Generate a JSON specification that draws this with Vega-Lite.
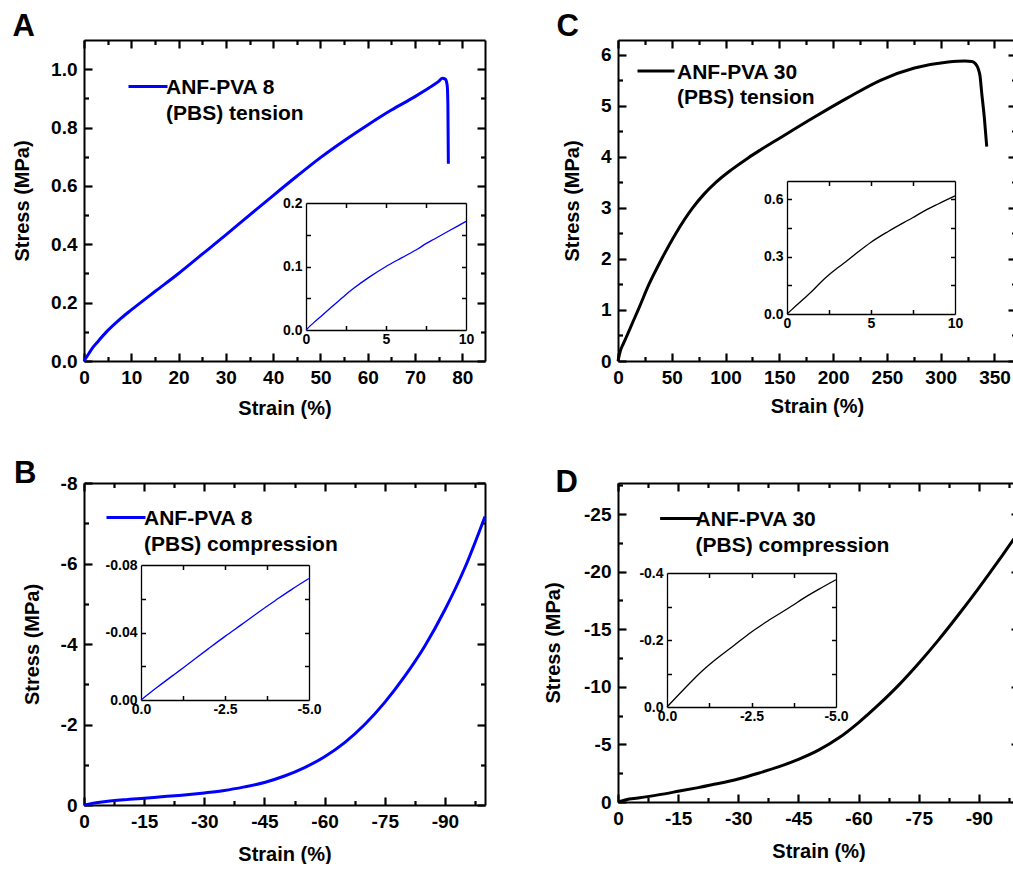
{
  "$schema": "https://vega.github.io/schema/vega-lite/v6.json",
  "background": "white",
  "padding": {"left": 12, "top": 10, "right": 0, "bottom": 0},
  "columns": 2,
  "spacing": {"row": 40, "column": 52},
  "align": "each",
  "resolve": {"scale": {"color": "independent"}, "legend": {"color": "independent"}},
  "datasets": {
    "A_main": [
      {"strain": 0, "stress": 0, "series": "ANF-PVA 8 (PBS) tension"},
      {"strain": 1, "stress": 0.025, "series": "ANF-PVA 8 (PBS) tension"},
      {"strain": 2, "stress": 0.049, "series": "ANF-PVA 8 (PBS) tension"},
      {"strain": 3, "stress": 0.068, "series": "ANF-PVA 8 (PBS) tension"},
      {"strain": 5, "stress": 0.104, "series": "ANF-PVA 8 (PBS) tension"},
      {"strain": 7.5, "stress": 0.142, "series": "ANF-PVA 8 (PBS) tension"},
      {"strain": 10, "stress": 0.175, "series": "ANF-PVA 8 (PBS) tension"},
      {"strain": 15, "stress": 0.238, "series": "ANF-PVA 8 (PBS) tension"},
      {"strain": 20, "stress": 0.3, "series": "ANF-PVA 8 (PBS) tension"},
      {"strain": 25, "stress": 0.366, "series": "ANF-PVA 8 (PBS) tension"},
      {"strain": 30, "stress": 0.432, "series": "ANF-PVA 8 (PBS) tension"},
      {"strain": 35, "stress": 0.5, "series": "ANF-PVA 8 (PBS) tension"},
      {"strain": 40, "stress": 0.567, "series": "ANF-PVA 8 (PBS) tension"},
      {"strain": 45, "stress": 0.633, "series": "ANF-PVA 8 (PBS) tension"},
      {"strain": 50, "stress": 0.697, "series": "ANF-PVA 8 (PBS) tension"},
      {"strain": 55, "stress": 0.755, "series": "ANF-PVA 8 (PBS) tension"},
      {"strain": 60, "stress": 0.809, "series": "ANF-PVA 8 (PBS) tension"},
      {"strain": 65, "stress": 0.86, "series": "ANF-PVA 8 (PBS) tension"},
      {"strain": 70, "stress": 0.906, "series": "ANF-PVA 8 (PBS) tension"},
      {"strain": 73, "stress": 0.936, "series": "ANF-PVA 8 (PBS) tension"},
      {"strain": 75, "stress": 0.958, "series": "ANF-PVA 8 (PBS) tension"},
      {"strain": 75.8, "stress": 0.969, "series": "ANF-PVA 8 (PBS) tension"},
      {"strain": 76.4, "stress": 0.966, "series": "ANF-PVA 8 (PBS) tension"},
      {"strain": 76.8, "stress": 0.945, "series": "ANF-PVA 8 (PBS) tension"},
      {"strain": 76.95, "stress": 0.88, "series": "ANF-PVA 8 (PBS) tension"},
      {"strain": 77.0, "stress": 0.78, "series": "ANF-PVA 8 (PBS) tension"},
      {"strain": 77.05, "stress": 0.676, "series": "ANF-PVA 8 (PBS) tension"}
    ],
    "A_inset": [
      {"strain": 0, "stress": 0}, {"strain": 0.5, "stress": 0.012}, {"strain": 1, "stress": 0.023},
      {"strain": 2, "stress": 0.045}, {"strain": 2.5, "stress": 0.056}, {"strain": 3, "stress": 0.066},
      {"strain": 4, "stress": 0.084}, {"strain": 5, "stress": 0.1}, {"strain": 6, "stress": 0.114},
      {"strain": 7, "stress": 0.128}, {"strain": 7.5, "stress": 0.136}, {"strain": 8, "stress": 0.143},
      {"strain": 9, "stress": 0.157}, {"strain": 10, "stress": 0.171}
    ],
    "C_main": [
      {"strain": 0, "stress": 0, "series": "ANF-PVA 30 (PBS) tension"},
      {"strain": 2.2, "stress": 0.2, "series": "ANF-PVA 30 (PBS) tension"},
      {"strain": 5, "stress": 0.34, "series": "ANF-PVA 30 (PBS) tension"},
      {"strain": 8.4, "stress": 0.5, "series": "ANF-PVA 30 (PBS) tension"},
      {"strain": 13.5, "stress": 0.75, "series": "ANF-PVA 30 (PBS) tension"},
      {"strain": 18.75, "stress": 1.0, "series": "ANF-PVA 30 (PBS) tension"},
      {"strain": 28.75, "stress": 1.5, "series": "ANF-PVA 30 (PBS) tension"},
      {"strain": 40.6, "stress": 2.0, "series": "ANF-PVA 30 (PBS) tension"},
      {"strain": 53.75, "stress": 2.5, "series": "ANF-PVA 30 (PBS) tension"},
      {"strain": 69.4, "stress": 3.0, "series": "ANF-PVA 30 (PBS) tension"},
      {"strain": 80, "stress": 3.27, "series": "ANF-PVA 30 (PBS) tension"},
      {"strain": 91, "stress": 3.5, "series": "ANF-PVA 30 (PBS) tension"},
      {"strain": 105, "stress": 3.74, "series": "ANF-PVA 30 (PBS) tension"},
      {"strain": 121, "stress": 3.98, "series": "ANF-PVA 30 (PBS) tension"},
      {"strain": 132, "stress": 4.13, "series": "ANF-PVA 30 (PBS) tension"},
      {"strain": 150.6, "stress": 4.37, "series": "ANF-PVA 30 (PBS) tension"},
      {"strain": 181.9, "stress": 4.77, "series": "ANF-PVA 30 (PBS) tension"},
      {"strain": 213, "stress": 5.15, "series": "ANF-PVA 30 (PBS) tension"},
      {"strain": 244, "stress": 5.5, "series": "ANF-PVA 30 (PBS) tension"},
      {"strain": 275.6, "stress": 5.74, "series": "ANF-PVA 30 (PBS) tension"},
      {"strain": 306.9, "stress": 5.86, "series": "ANF-PVA 30 (PBS) tension"},
      {"strain": 322.5, "stress": 5.88, "series": "ANF-PVA 30 (PBS) tension"},
      {"strain": 329, "stress": 5.87, "series": "ANF-PVA 30 (PBS) tension"},
      {"strain": 332.5, "stress": 5.82, "series": "ANF-PVA 30 (PBS) tension"},
      {"strain": 335, "stress": 5.72, "series": "ANF-PVA 30 (PBS) tension"},
      {"strain": 336.6, "stress": 5.58, "series": "ANF-PVA 30 (PBS) tension"},
      {"strain": 338, "stress": 5.28, "series": "ANF-PVA 30 (PBS) tension"},
      {"strain": 340.6, "stress": 4.76, "series": "ANF-PVA 30 (PBS) tension"},
      {"strain": 342.8, "stress": 4.2, "series": "ANF-PVA 30 (PBS) tension"}
    ],
    "C_inset": [
      {"strain": 0, "stress": 0}, {"strain": 0.5, "stress": 0.04}, {"strain": 1, "stress": 0.08},
      {"strain": 1.5, "stress": 0.12}, {"strain": 2, "stress": 0.165}, {"strain": 2.5, "stress": 0.205},
      {"strain": 3, "stress": 0.24}, {"strain": 3.5, "stress": 0.273}, {"strain": 4, "stress": 0.308},
      {"strain": 5, "stress": 0.375}, {"strain": 6, "stress": 0.43}, {"strain": 7, "stress": 0.48},
      {"strain": 7.5, "stress": 0.504}, {"strain": 8, "stress": 0.53}, {"strain": 9, "stress": 0.575},
      {"strain": 10, "stress": 0.617}
    ],
    "B_main": [
      {"strain": 0, "stress": 0, "series": "ANF-PVA 8 (PBS) compression"},
      {"strain": -2, "stress": -0.04, "series": "ANF-PVA 8 (PBS) compression"},
      {"strain": -5, "stress": -0.08, "series": "ANF-PVA 8 (PBS) compression"},
      {"strain": -10, "stress": -0.13, "series": "ANF-PVA 8 (PBS) compression"},
      {"strain": -15, "stress": -0.17, "series": "ANF-PVA 8 (PBS) compression"},
      {"strain": -20, "stress": -0.21, "series": "ANF-PVA 8 (PBS) compression"},
      {"strain": -25, "stress": -0.25, "series": "ANF-PVA 8 (PBS) compression"},
      {"strain": -30, "stress": -0.3, "series": "ANF-PVA 8 (PBS) compression"},
      {"strain": -35, "stress": -0.36, "series": "ANF-PVA 8 (PBS) compression"},
      {"strain": -40, "stress": -0.45, "series": "ANF-PVA 8 (PBS) compression"},
      {"strain": -45, "stress": -0.56, "series": "ANF-PVA 8 (PBS) compression"},
      {"strain": -50, "stress": -0.72, "series": "ANF-PVA 8 (PBS) compression"},
      {"strain": -55, "stress": -0.93, "series": "ANF-PVA 8 (PBS) compression"},
      {"strain": -60, "stress": -1.2, "series": "ANF-PVA 8 (PBS) compression"},
      {"strain": -65, "stress": -1.55, "series": "ANF-PVA 8 (PBS) compression"},
      {"strain": -70, "stress": -2.0, "series": "ANF-PVA 8 (PBS) compression"},
      {"strain": -75, "stress": -2.55, "series": "ANF-PVA 8 (PBS) compression"},
      {"strain": -80, "stress": -3.2, "series": "ANF-PVA 8 (PBS) compression"},
      {"strain": -85, "stress": -3.95, "series": "ANF-PVA 8 (PBS) compression"},
      {"strain": -90, "stress": -4.85, "series": "ANF-PVA 8 (PBS) compression"},
      {"strain": -95, "stress": -5.9, "series": "ANF-PVA 8 (PBS) compression"},
      {"strain": -100, "stress": -7.17, "series": "ANF-PVA 8 (PBS) compression"}
    ],
    "B_inset": [
      {"strain": 0, "stress": 0}, {"strain": -0.5, "stress": -0.0078}, {"strain": -1, "stress": -0.0153},
      {"strain": -1.25, "stress": -0.019}, {"strain": -2, "stress": -0.0303}, {"strain": -2.5, "stress": -0.0377},
      {"strain": -3, "stress": -0.0448}, {"strain": -3.75, "stress": -0.0556}, {"strain": -4, "stress": -0.059},
      {"strain": -4.5, "stress": -0.0657}, {"strain": -5, "stress": -0.072}
    ],
    "D_main": [
      {"strain": 0, "stress": 0, "series": "ANF-PVA 30 (PBS) compression"},
      {"strain": -2, "stress": -0.2, "series": "ANF-PVA 30 (PBS) compression"},
      {"strain": -5, "stress": -0.35, "series": "ANF-PVA 30 (PBS) compression"},
      {"strain": -10, "stress": -0.62, "series": "ANF-PVA 30 (PBS) compression"},
      {"strain": -15, "stress": -0.93, "series": "ANF-PVA 30 (PBS) compression"},
      {"strain": -20, "stress": -1.25, "series": "ANF-PVA 30 (PBS) compression"},
      {"strain": -25, "stress": -1.6, "series": "ANF-PVA 30 (PBS) compression"},
      {"strain": -30, "stress": -2.0, "series": "ANF-PVA 30 (PBS) compression"},
      {"strain": -35, "stress": -2.5, "series": "ANF-PVA 30 (PBS) compression"},
      {"strain": -40, "stress": -3.05, "series": "ANF-PVA 30 (PBS) compression"},
      {"strain": -45, "stress": -3.7, "series": "ANF-PVA 30 (PBS) compression"},
      {"strain": -50, "stress": -4.5, "series": "ANF-PVA 30 (PBS) compression"},
      {"strain": -55, "stress": -5.55, "series": "ANF-PVA 30 (PBS) compression"},
      {"strain": -60, "stress": -6.9, "series": "ANF-PVA 30 (PBS) compression"},
      {"strain": -65, "stress": -8.45, "series": "ANF-PVA 30 (PBS) compression"},
      {"strain": -70, "stress": -10.15, "series": "ANF-PVA 30 (PBS) compression"},
      {"strain": -75, "stress": -12.05, "series": "ANF-PVA 30 (PBS) compression"},
      {"strain": -80, "stress": -14.1, "series": "ANF-PVA 30 (PBS) compression"},
      {"strain": -85, "stress": -16.3, "series": "ANF-PVA 30 (PBS) compression"},
      {"strain": -90, "stress": -18.6, "series": "ANF-PVA 30 (PBS) compression"},
      {"strain": -95, "stress": -21.0, "series": "ANF-PVA 30 (PBS) compression"},
      {"strain": -100, "stress": -23.5, "series": "ANF-PVA 30 (PBS) compression"}
    ],
    "D_inset": [
      {"strain": 0, "stress": 0}, {"strain": -0.5, "stress": -0.053}, {"strain": -1, "stress": -0.104},
      {"strain": -1.25, "stress": -0.126}, {"strain": -2, "stress": -0.185}, {"strain": -2.5, "stress": -0.224},
      {"strain": -3, "stress": -0.258}, {"strain": -3.75, "stress": -0.305}, {"strain": -4, "stress": -0.322},
      {"strain": -4.5, "stress": -0.352}, {"strain": -5, "stress": -0.38}
    ]
  },
  "concat": [
    {
      "width": 401, "height": 321,
      "title": {"text": "A", "anchor": "start", "frame": "bounds", "offset": -4},
      "resolve": {"scale": {"x": "independent", "y": "independent"}},
      "layer": [
        {
          "data": {"name": "A_main"},
          "mark": {"type": "line", "strokeWidth": 3, "interpolate": "monotone"},
          "encoding": {
            "x": {"field": "strain", "type": "quantitative", "scale": {"domain": [0, 84.8], "nice": false, "zero": false},
              "axis": {"orient": "bottom", "title": "Strain (%)", "values": [0,10,20,30,40,50,60,70,80], "format": "d", "ticks": false, "labelPadding": 7, "titlePadding": 11}},
            "y": {"field": "stress", "type": "quantitative", "scale": {"domain": [0, 1.1], "nice": false, "zero": false},
              "axis": {"orient": "left", "title": "Stress (MPa)", "values": [0,0.2,0.4,0.6,0.8,1.0], "format": ".1f", "ticks": false, "labelPadding": 7, "titlePadding": 18}},
            "color": {"field": "series", "type": "nominal", "scale": {"range": ["#0000ff"]},
              "legend": {"orient": "none", "legendX": 43, "legendY": 27, "title": null, "padding": 0,
                "symbolType": "M-1,-0.08L1,-0.08", "symbolSize": 1521, "symbolStrokeWidth": 3, "labelOffset": -3, "labelLimit": 400,
                "labelExpr": "[slice(datum.label, 0, indexof(datum.label, ' (')), slice(datum.label, indexof(datum.label, ' (') + 1)]"}}
          }
        },
        {
          "data": {"name": "A_main"}, "mark": {"type": "line", "opacity": 0},
          "encoding": {
            "x": {"field": "strain", "type": "quantitative", "scale": {"domain": [0, 84.8], "nice": false, "zero": false},
              "axis": {"orient": "top", "offset": -321, "title": null, "labels": false, "domain": false, "ticks": true, "tickColor": "black", "tickWidth": 2.2, "tickOpacity": 1, "values": [0,10,20,30,40,50,60,70,80], "tickSize": 8}},
            "y": {"field": "stress", "type": "quantitative", "scale": {"domain": [0, 1.1], "nice": false, "zero": false},
              "axis": {"orient": "right", "offset": -401, "title": null, "labels": false, "domain": false, "ticks": true, "tickColor": "black", "tickWidth": 2.2, "tickOpacity": 1, "values": [0,0.2,0.4,0.6,0.8,1.0], "tickSize": 8}}
          }
        },
        {
          "data": {"name": "A_main"}, "mark": {"type": "line", "opacity": 0},
          "encoding": {
            "x": {"field": "strain", "type": "quantitative", "scale": {"domain": [0, 84.8], "nice": false, "zero": false},
              "axis": {"orient": "bottom", "offset": -321, "title": null, "labels": false, "domain": true, "ticks": true, "tickColor": "black", "tickWidth": 2.2, "tickOpacity": 1, "values": [0,10,20,30,40,50,60,70,80], "tickSize": 8}},
            "y": {"field": "stress", "type": "quantitative", "scale": {"domain": [0, 1.1], "nice": false, "zero": false},
              "axis": {"orient": "left", "offset": -401, "title": null, "labels": false, "domain": true, "ticks": true, "tickColor": "black", "tickWidth": 2.2, "tickOpacity": 1, "values": [0,0.2,0.4,0.6,0.8,1.0], "tickSize": 8}}
          }
        },
        {
          "data": {"name": "A_main"}, "mark": {"type": "line", "opacity": 0},
          "encoding": {
            "x": {"field": "strain", "type": "quantitative", "scale": {"domain": [0, 84.8], "nice": false, "zero": false},
              "axis": {"orient": "top", "offset": -321, "title": null, "labels": false, "domain": false, "ticks": true, "tickColor": "black", "tickWidth": 2.2, "tickOpacity": 1, "values": [5,15,25,35,45,55,65,75], "tickSize": 4.5}},
            "y": {"field": "stress", "type": "quantitative", "scale": {"domain": [0, 1.1], "nice": false, "zero": false},
              "axis": {"orient": "right", "offset": -401, "title": null, "labels": false, "domain": false, "ticks": true, "tickColor": "black", "tickWidth": 2.2, "tickOpacity": 1, "values": [0.1,0.3,0.5,0.7,0.9], "tickSize": 4.5}}
          }
        },
        {
          "data": {"name": "A_main"}, "mark": {"type": "line", "opacity": 0},
          "encoding": {
            "x": {"field": "strain", "type": "quantitative", "scale": {"domain": [0, 84.8], "nice": false, "zero": false},
              "axis": {"orient": "bottom", "offset": -321, "title": null, "labels": false, "domain": false, "ticks": true, "tickColor": "black", "tickWidth": 2.2, "tickOpacity": 1, "values": [5,15,25,35,45,55,65,75], "tickSize": 4.5}},
            "y": {"field": "stress", "type": "quantitative", "scale": {"domain": [0, 1.1], "nice": false, "zero": false},
              "axis": {"orient": "left", "offset": -401, "title": null, "labels": false, "domain": false, "ticks": true, "tickColor": "black", "tickWidth": 2.2, "tickOpacity": 1, "values": [0.1,0.3,0.5,0.7,0.9], "tickSize": 4.5}}
          }
        },
        {
          "data": {"name": "A_inset"},
          "mark": {"type": "line", "strokeWidth": 1.3, "color": "#0000ff", "interpolate": "monotone"},
          "encoding": {
            "x": {"field": "strain", "type": "quantitative", "scale": {"domain": [0, 10], "range": [222, 382], "nice": false, "zero": false},
              "axis": {"orient": "bottom", "offset": -31, "title": null, "values": [0,5,10], "format": "d", "ticks": false, "labelPadding": 2,
                "labelFontSize": 14, "domainWidth": 1.3}},
            "y": {"field": "stress", "type": "quantitative", "scale": {"domain": [0, 0.2], "range": [290, 163], "nice": false, "zero": false},
              "axis": {"orient": "left", "offset": -222, "title": null, "values": [0,0.1,0.2], "format": ".1f", "ticks": false, "labelPadding": 4,
                "labelFontSize": 14, "domainWidth": 1.3}}
          }
        },
        {
          "data": {"name": "A_inset"}, "mark": {"type": "line", "opacity": 0},
          "encoding": {
            "x": {"field": "strain", "type": "quantitative", "scale": {"domain": [0, 10], "range": [222, 382], "nice": false, "zero": false},
              "axis": {"orient": "top", "offset": -290, "title": null, "labels": false, "domain": false, "ticks": true, "tickColor": "black", "tickOpacity": 1, "values": [2.5,5,7.5], "tickSize": 4.5, "tickWidth": 1.5}},
            "y": {"field": "stress", "type": "quantitative", "scale": {"domain": [0, 0.2], "range": [290, 163], "nice": false, "zero": false},
              "axis": {"orient": "right", "offset": -179, "title": null, "labels": false, "domain": false, "ticks": true, "tickColor": "black", "tickOpacity": 1, "values": [0.05,0.1,0.15], "tickSize": 4.5, "tickWidth": 1.5}}
          }
        },
        {
          "data": {"name": "A_inset"}, "mark": {"type": "line", "opacity": 0},
          "encoding": {
            "x": {"field": "strain", "type": "quantitative", "scale": {"domain": [0, 10], "range": [222, 382], "nice": false, "zero": false},
              "axis": {"orient": "bottom", "offset": -158, "title": null, "labels": false, "domain": true, "domainWidth": 1.3, "ticks": true, "tickColor": "black", "tickOpacity": 1, "values": [2.5,5,7.5], "tickSize": 4.5, "tickWidth": 1.5}},
            "y": {"field": "stress", "type": "quantitative", "scale": {"domain": [0, 0.2], "range": [290, 163], "nice": false, "zero": false},
              "axis": {"orient": "left", "offset": -382, "title": null, "labels": false, "domain": true, "domainWidth": 1.3, "ticks": true, "tickColor": "black", "tickOpacity": 1, "values": [0.05,0.1,0.15], "tickSize": 4.5, "tickWidth": 1.5}}
          }
        }
      ]
    },
    {
      "width": 398, "height": 321,
      "title": {"text": "C", "anchor": "start", "frame": "bounds", "offset": -4, "dx": -6},
      "resolve": {"scale": {"x": "independent", "y": "independent"}},
      "layer": [
        {
          "data": {"name": "C_main"},
          "mark": {"type": "line", "strokeWidth": 3, "interpolate": "monotone"},
          "encoding": {
            "x": {"field": "strain", "type": "quantitative", "scale": {"domain": [0, 370], "nice": false, "zero": false},
              "axis": {"orient": "bottom", "title": "Strain (%)", "values": [0,50,100,150,200,250,300,350], "format": "d", "ticks": false, "labelPadding": 7, "titlePadding": 9}},
            "y": {"field": "stress", "type": "quantitative", "scale": {"domain": [0, 6.29], "nice": false, "zero": false},
              "axis": {"orient": "left", "title": "Stress (MPa)", "values": [0,1,2,3,4,5,6], "format": "d", "ticks": false, "labelPadding": 7, "titlePadding": 18}},
            "color": {"field": "series", "type": "nominal", "scale": {"range": ["#000000"]},
              "legend": {"orient": "none", "legendX": 18, "legendY": 12.5, "title": null, "padding": 0,
                "symbolType": "M-1,-0.08L1,-0.08", "symbolSize": 1369, "symbolStrokeWidth": 3, "labelOffset": 1, "labelLimit": 400,
                "labelExpr": "[slice(datum.label, 0, indexof(datum.label, ' (')), slice(datum.label, indexof(datum.label, ' (') + 1)]"}}
          }
        },
        {
          "data": {"name": "C_main"}, "mark": {"type": "line", "opacity": 0},
          "encoding": {
            "x": {"field": "strain", "type": "quantitative", "scale": {"domain": [0, 370], "nice": false, "zero": false},
              "axis": {"orient": "top", "offset": -321, "title": null, "labels": false, "domain": false, "ticks": true, "tickColor": "black", "tickWidth": 2.2, "tickOpacity": 1, "values": [0,50,100,150,200,250,300,350], "tickSize": 8}},
            "y": {"field": "stress", "type": "quantitative", "scale": {"domain": [0, 6.29], "nice": false, "zero": false},
              "axis": {"orient": "right", "offset": -398, "title": null, "labels": false, "domain": false, "ticks": true, "tickColor": "black", "tickWidth": 2.2, "tickOpacity": 1, "values": [0,1,2,3,4,5,6], "tickSize": 8}}
          }
        },
        {
          "data": {"name": "C_main"}, "mark": {"type": "line", "opacity": 0},
          "encoding": {
            "x": {"field": "strain", "type": "quantitative", "scale": {"domain": [0, 370], "nice": false, "zero": false},
              "axis": {"orient": "bottom", "offset": -321, "title": null, "labels": false, "domain": true, "ticks": true, "tickColor": "black", "tickWidth": 2.2, "tickOpacity": 1, "values": [0,50,100,150,200,250,300,350], "tickSize": 8}},
            "y": {"field": "stress", "type": "quantitative", "scale": {"domain": [0, 6.29], "nice": false, "zero": false},
              "axis": {"orient": "left", "offset": -398, "title": null, "labels": false, "domain": true, "ticks": true, "tickColor": "black", "tickWidth": 2.2, "tickOpacity": 1, "values": [0,1,2,3,4,5,6], "tickSize": 8}}
          }
        },
        {
          "data": {"name": "C_main"}, "mark": {"type": "line", "opacity": 0},
          "encoding": {
            "x": {"field": "strain", "type": "quantitative", "scale": {"domain": [0, 370], "nice": false, "zero": false},
              "axis": {"orient": "top", "offset": -321, "title": null, "labels": false, "domain": false, "ticks": true, "tickColor": "black", "tickWidth": 2.2, "tickOpacity": 1, "values": [25,75,125,175,225,275,325], "tickSize": 4.5}},
            "y": {"field": "stress", "type": "quantitative", "scale": {"domain": [0, 6.29], "nice": false, "zero": false},
              "axis": {"orient": "right", "offset": -398, "title": null, "labels": false, "domain": false, "ticks": true, "tickColor": "black", "tickWidth": 2.2, "tickOpacity": 1, "values": [0.5,1.5,2.5,3.5,4.5,5.5], "tickSize": 4.5}}
          }
        },
        {
          "data": {"name": "C_main"}, "mark": {"type": "line", "opacity": 0},
          "encoding": {
            "x": {"field": "strain", "type": "quantitative", "scale": {"domain": [0, 370], "nice": false, "zero": false},
              "axis": {"orient": "bottom", "offset": -321, "title": null, "labels": false, "domain": false, "ticks": true, "tickColor": "black", "tickWidth": 2.2, "tickOpacity": 1, "values": [25,75,125,175,225,275,325], "tickSize": 4.5}},
            "y": {"field": "stress", "type": "quantitative", "scale": {"domain": [0, 6.29], "nice": false, "zero": false},
              "axis": {"orient": "left", "offset": -398, "title": null, "labels": false, "domain": false, "ticks": true, "tickColor": "black", "tickWidth": 2.2, "tickOpacity": 1, "values": [0.5,1.5,2.5,3.5,4.5,5.5], "tickSize": 4.5}}
          }
        },
        {
          "data": {"name": "C_inset"},
          "mark": {"type": "line", "strokeWidth": 1.3, "color": "#000000", "interpolate": "monotone"},
          "encoding": {
            "x": {"field": "strain", "type": "quantitative", "scale": {"domain": [0, 10], "range": [169, 337], "nice": false, "zero": false},
              "axis": {"orient": "bottom", "offset": -47, "title": null, "values": [0,5,10], "format": "d", "ticks": false, "labelPadding": 2,
                "labelFontSize": 14, "domainWidth": 1.3}},
            "y": {"field": "stress", "type": "quantitative", "scale": {"domain": [0, 0.695], "range": [274, 141], "nice": false, "zero": false},
              "axis": {"orient": "left", "offset": -169, "title": null, "values": [0,0.3,0.6], "format": ".1f", "ticks": false, "labelPadding": 4,
                "labelFontSize": 14, "domainWidth": 1.3}}
          }
        },
        {
          "data": {"name": "C_inset"}, "mark": {"type": "line", "opacity": 0},
          "encoding": {
            "x": {"field": "strain", "type": "quantitative", "scale": {"domain": [0, 10], "range": [169, 337], "nice": false, "zero": false},
              "axis": {"orient": "top", "offset": -274, "title": null, "labels": false, "domain": false, "ticks": true, "tickColor": "black", "tickOpacity": 1, "values": [2.5,5,7.5], "tickSize": 4.5, "tickWidth": 1.5}},
            "y": {"field": "stress", "type": "quantitative", "scale": {"domain": [0, 0.695], "range": [274, 141], "nice": false, "zero": false},
              "axis": {"orient": "right", "offset": -229, "title": null, "labels": false, "domain": false, "ticks": true, "tickColor": "black", "tickOpacity": 1, "values": [0.15,0.3,0.45,0.6], "tickSize": 4.5, "tickWidth": 1.5}}
          }
        },
        {
          "data": {"name": "C_inset"}, "mark": {"type": "line", "opacity": 0},
          "encoding": {
            "x": {"field": "strain", "type": "quantitative", "scale": {"domain": [0, 10], "range": [169, 337], "nice": false, "zero": false},
              "axis": {"orient": "bottom", "offset": -180, "title": null, "labels": false, "domain": true, "domainWidth": 1.3, "ticks": true, "tickColor": "black", "tickOpacity": 1, "values": [2.5,5,7.5], "tickSize": 4.5, "tickWidth": 1.5}},
            "y": {"field": "stress", "type": "quantitative", "scale": {"domain": [0, 0.695], "range": [274, 141], "nice": false, "zero": false},
              "axis": {"orient": "left", "offset": -337, "title": null, "labels": false, "domain": true, "domainWidth": 1.3, "ticks": true, "tickColor": "black", "tickOpacity": 1, "values": [0.15,0.3,0.45,0.6], "tickSize": 4.5, "tickWidth": 1.5}}
          }
        }
      ]
    },
    {
      "width": 401, "height": 322,
      "title": {"text": "B", "anchor": "start", "frame": "bounds", "offset": -16, "dx": -8},
      "resolve": {"scale": {"x": "independent", "y": "independent"}},
      "layer": [
        {
          "data": {"name": "B_main"},
          "mark": {"type": "line", "strokeWidth": 3, "interpolate": "monotone"},
          "encoding": {
            "x": {"field": "strain", "type": "quantitative", "scale": {"domain": [-100, 0], "reverse": true, "nice": false, "zero": false},
              "axis": {"orient": "bottom", "title": "Strain (%)", "values": [0,-15,-30,-45,-60,-75,-90], "format": "d",
                "labelExpr": "replace(datum.label, '\u2212', '-')", "ticks": false, "labelPadding": 7, "titlePadding": 13}},
            "y": {"field": "stress", "type": "quantitative", "scale": {"domain": [-8, 0], "reverse": true, "nice": false, "zero": false},
              "axis": {"orient": "left", "title": "Stress (MPa)", "values": [0,-2,-4,-6,-8], "format": "d",
                "labelExpr": "replace(datum.label, '\u2212', '-')", "ticks": false, "labelPadding": 7, "titlePadding": 18}},
            "color": {"field": "series", "type": "nominal", "scale": {"range": ["#0000ff"]},
              "legend": {"orient": "none", "legendX": 21, "legendY": 15, "title": null, "padding": 0,
                "symbolType": "M-1,-0.08L1,-0.08", "symbolSize": 1521, "symbolStrokeWidth": 3, "labelOffset": -3, "labelLimit": 400,
                "labelExpr": "[slice(datum.label, 0, indexof(datum.label, ' (')), slice(datum.label, indexof(datum.label, ' (') + 1)]"}}
          }
        },
        {
          "data": {"name": "B_main"}, "mark": {"type": "line", "opacity": 0},
          "encoding": {
            "x": {"field": "strain", "type": "quantitative", "scale": {"domain": [-100, 0], "reverse": true, "nice": false, "zero": false},
              "axis": {"orient": "top", "offset": -322, "title": null, "labels": false, "domain": false, "ticks": true, "tickColor": "black", "tickWidth": 2.2, "tickOpacity": 1, "values": [0,-15,-30,-45,-60,-75,-90], "tickSize": 8}},
            "y": {"field": "stress", "type": "quantitative", "scale": {"domain": [-8, 0], "reverse": true, "nice": false, "zero": false},
              "axis": {"orient": "right", "offset": -401, "title": null, "labels": false, "domain": false, "ticks": true, "tickColor": "black", "tickWidth": 2.2, "tickOpacity": 1, "values": [0,-2,-4,-6,-8], "tickSize": 8}}
          }
        },
        {
          "data": {"name": "B_main"}, "mark": {"type": "line", "opacity": 0},
          "encoding": {
            "x": {"field": "strain", "type": "quantitative", "scale": {"domain": [-100, 0], "reverse": true, "nice": false, "zero": false},
              "axis": {"orient": "bottom", "offset": -322, "title": null, "labels": false, "domain": true, "ticks": true, "tickColor": "black", "tickWidth": 2.2, "tickOpacity": 1, "values": [0,-15,-30,-45,-60,-75,-90], "tickSize": 8}},
            "y": {"field": "stress", "type": "quantitative", "scale": {"domain": [-8, 0], "reverse": true, "nice": false, "zero": false},
              "axis": {"orient": "left", "offset": -401, "title": null, "labels": false, "domain": true, "ticks": true, "tickColor": "black", "tickWidth": 2.2, "tickOpacity": 1, "values": [0,-2,-4,-6,-8], "tickSize": 8}}
          }
        },
        {
          "data": {"name": "B_main"}, "mark": {"type": "line", "opacity": 0},
          "encoding": {
            "x": {"field": "strain", "type": "quantitative", "scale": {"domain": [-100, 0], "reverse": true, "nice": false, "zero": false},
              "axis": {"orient": "top", "offset": -322, "title": null, "labels": false, "domain": false, "ticks": true, "tickColor": "black", "tickWidth": 2.2, "tickOpacity": 1, "values": [-7.5,-22.5,-37.5,-52.5,-67.5,-82.5,-97.5], "tickSize": 4.5}},
            "y": {"field": "stress", "type": "quantitative", "scale": {"domain": [-8, 0], "reverse": true, "nice": false, "zero": false},
              "axis": {"orient": "right", "offset": -401, "title": null, "labels": false, "domain": false, "ticks": true, "tickColor": "black", "tickWidth": 2.2, "tickOpacity": 1, "values": [-1,-3,-5,-7], "tickSize": 4.5}}
          }
        },
        {
          "data": {"name": "B_main"}, "mark": {"type": "line", "opacity": 0},
          "encoding": {
            "x": {"field": "strain", "type": "quantitative", "scale": {"domain": [-100, 0], "reverse": true, "nice": false, "zero": false},
              "axis": {"orient": "bottom", "offset": -322, "title": null, "labels": false, "domain": false, "ticks": true, "tickColor": "black", "tickWidth": 2.2, "tickOpacity": 1, "values": [-7.5,-22.5,-37.5,-52.5,-67.5,-82.5,-97.5], "tickSize": 4.5}},
            "y": {"field": "stress", "type": "quantitative", "scale": {"domain": [-8, 0], "reverse": true, "nice": false, "zero": false},
              "axis": {"orient": "left", "offset": -401, "title": null, "labels": false, "domain": false, "ticks": true, "tickColor": "black", "tickWidth": 2.2, "tickOpacity": 1, "values": [-1,-3,-5,-7], "tickSize": 4.5}}
          }
        },
        {
          "data": {"name": "B_inset"},
          "mark": {"type": "line", "strokeWidth": 1.3, "color": "#0000ff", "interpolate": "monotone"},
          "encoding": {
            "x": {"field": "strain", "type": "quantitative", "scale": {"domain": [-5, 0], "reverse": true, "range": [57, 225], "nice": false, "zero": false},
              "axis": {"orient": "bottom", "offset": -105, "title": null, "values": [0,-2.5,-5], "format": ".1f",
                "labelExpr": "replace(datum.label, '\u2212', '-')", "ticks": false, "labelPadding": 2, "labelFontSize": 14, "domainWidth": 1.3}},
            "y": {"field": "stress", "type": "quantitative", "scale": {"domain": [-0.08, 0], "reverse": true, "range": [217, 82], "nice": false, "zero": false},
              "axis": {"orient": "left", "offset": -57, "title": null, "values": [0,-0.04,-0.08], "format": ".2f",
                "labelExpr": "replace(datum.label, '\u2212', '-')", "ticks": false, "labelPadding": 4, "labelFontSize": 14, "domainWidth": 1.3}}
          }
        },
        {
          "data": {"name": "B_inset"}, "mark": {"type": "line", "opacity": 0},
          "encoding": {
            "x": {"field": "strain", "type": "quantitative", "scale": {"domain": [-5, 0], "reverse": true, "range": [57, 225], "nice": false, "zero": false},
              "axis": {"orient": "top", "offset": -217, "title": null, "labels": false, "domain": false, "ticks": true, "tickColor": "black", "tickOpacity": 1, "values": [-1.25,-2.5,-3.75], "tickSize": 4.5, "tickWidth": 1.5}},
            "y": {"field": "stress", "type": "quantitative", "scale": {"domain": [-0.08, 0], "reverse": true, "range": [217, 82], "nice": false, "zero": false},
              "axis": {"orient": "right", "offset": -344, "title": null, "labels": false, "domain": false, "ticks": true, "tickColor": "black", "tickOpacity": 1, "values": [-0.02,-0.04,-0.06], "tickSize": 4.5, "tickWidth": 1.5}}
          }
        },
        {
          "data": {"name": "B_inset"}, "mark": {"type": "line", "opacity": 0},
          "encoding": {
            "x": {"field": "strain", "type": "quantitative", "scale": {"domain": [-5, 0], "reverse": true, "range": [57, 225], "nice": false, "zero": false},
              "axis": {"orient": "bottom", "offset": -240, "title": null, "labels": false, "domain": true, "domainWidth": 1.3, "ticks": true, "tickColor": "black", "tickOpacity": 1, "values": [-1.25,-2.5,-3.75], "tickSize": 4.5, "tickWidth": 1.5}},
            "y": {"field": "stress", "type": "quantitative", "scale": {"domain": [-0.08, 0], "reverse": true, "range": [217, 82], "nice": false, "zero": false},
              "axis": {"orient": "left", "offset": -225, "title": null, "labels": false, "domain": true, "domainWidth": 1.3, "ticks": true, "tickColor": "black", "tickOpacity": 1, "values": [-0.02,-0.04,-0.06], "tickSize": 4.5, "tickWidth": 1.5}}
          }
        }
      ]
    },
    {
      "width": 401, "height": 319,
      "title": {"text": "D", "anchor": "start", "frame": "bounds", "offset": -17, "dx": 12},
      "resolve": {"scale": {"x": "independent", "y": "independent"}},
      "layer": [
        {
          "data": {"name": "D_main"},
          "mark": {"type": "line", "strokeWidth": 3, "interpolate": "monotone"},
          "encoding": {
            "x": {"field": "strain", "type": "quantitative", "scale": {"domain": [-100, 0], "reverse": true, "nice": false, "zero": false},
              "axis": {"orient": "bottom", "title": "Strain (%)", "values": [0,-15,-30,-45,-60,-75,-90], "format": "d",
                "labelExpr": "replace(datum.label, '\u2212', '-')", "ticks": false, "labelPadding": 7, "titlePadding": 13}},
            "y": {"field": "stress", "type": "quantitative", "scale": {"domain": [-27.7, 0], "reverse": true, "nice": false, "zero": false},
              "axis": {"orient": "left", "title": "Stress (MPa)", "values": [0,-5,-10,-15,-20,-25], "format": "d",
                "labelExpr": "replace(datum.label, '\u2212', '-')", "ticks": false, "labelPadding": 7, "titlePadding": 20}},
            "color": {"field": "series", "type": "nominal", "scale": {"range": ["#000000"]},
              "legend": {"orient": "none", "legendX": 40.6, "legendY": 15.5, "title": null, "padding": 0,
                "symbolType": "M-1,-0.08L1,-0.08", "symbolSize": 1600, "symbolStrokeWidth": 3, "labelOffset": -6, "labelLimit": 400,
                "labelExpr": "[slice(datum.label, 0, indexof(datum.label, ' (')), slice(datum.label, indexof(datum.label, ' (') + 1)]"}}
          }
        },
        {
          "data": {"name": "D_main"}, "mark": {"type": "line", "opacity": 0},
          "encoding": {
            "x": {"field": "strain", "type": "quantitative", "scale": {"domain": [-100, 0], "reverse": true, "nice": false, "zero": false},
              "axis": {"orient": "top", "offset": -319, "title": null, "labels": false, "domain": false, "ticks": true, "tickColor": "black", "tickWidth": 2.2, "tickOpacity": 1, "values": [0,-15,-30,-45,-60,-75,-90], "tickSize": 8}},
            "y": {"field": "stress", "type": "quantitative", "scale": {"domain": [-27.7, 0], "reverse": true, "nice": false, "zero": false},
              "axis": {"orient": "right", "offset": -401, "title": null, "labels": false, "domain": false, "ticks": true, "tickColor": "black", "tickWidth": 2.2, "tickOpacity": 1, "values": [0,-5,-10,-15,-20,-25], "tickSize": 8}}
          }
        },
        {
          "data": {"name": "D_main"}, "mark": {"type": "line", "opacity": 0},
          "encoding": {
            "x": {"field": "strain", "type": "quantitative", "scale": {"domain": [-100, 0], "reverse": true, "nice": false, "zero": false},
              "axis": {"orient": "bottom", "offset": -319, "title": null, "labels": false, "domain": true, "ticks": true, "tickColor": "black", "tickWidth": 2.2, "tickOpacity": 1, "values": [0,-15,-30,-45,-60,-75,-90], "tickSize": 8}},
            "y": {"field": "stress", "type": "quantitative", "scale": {"domain": [-27.7, 0], "reverse": true, "nice": false, "zero": false},
              "axis": {"orient": "left", "offset": -401, "title": null, "labels": false, "domain": true, "ticks": true, "tickColor": "black", "tickWidth": 2.2, "tickOpacity": 1, "values": [0,-5,-10,-15,-20,-25], "tickSize": 8}}
          }
        },
        {
          "data": {"name": "D_main"}, "mark": {"type": "line", "opacity": 0},
          "encoding": {
            "x": {"field": "strain", "type": "quantitative", "scale": {"domain": [-100, 0], "reverse": true, "nice": false, "zero": false},
              "axis": {"orient": "top", "offset": -319, "title": null, "labels": false, "domain": false, "ticks": true, "tickColor": "black", "tickWidth": 2.2, "tickOpacity": 1, "values": [-7.5,-22.5,-37.5,-52.5,-67.5,-82.5,-97.5], "tickSize": 4.5}},
            "y": {"field": "stress", "type": "quantitative", "scale": {"domain": [-27.7, 0], "reverse": true, "nice": false, "zero": false},
              "axis": {"orient": "right", "offset": -401, "title": null, "labels": false, "domain": false, "ticks": true, "tickColor": "black", "tickWidth": 2.2, "tickOpacity": 1, "values": [-2.5,-7.5,-12.5,-17.5,-22.5,-27.5], "tickSize": 4.5}}
          }
        },
        {
          "data": {"name": "D_main"}, "mark": {"type": "line", "opacity": 0},
          "encoding": {
            "x": {"field": "strain", "type": "quantitative", "scale": {"domain": [-100, 0], "reverse": true, "nice": false, "zero": false},
              "axis": {"orient": "bottom", "offset": -319, "title": null, "labels": false, "domain": false, "ticks": true, "tickColor": "black", "tickWidth": 2.2, "tickOpacity": 1, "values": [-7.5,-22.5,-37.5,-52.5,-67.5,-82.5,-97.5], "tickSize": 4.5}},
            "y": {"field": "stress", "type": "quantitative", "scale": {"domain": [-27.7, 0], "reverse": true, "nice": false, "zero": false},
              "axis": {"orient": "left", "offset": -401, "title": null, "labels": false, "domain": false, "ticks": true, "tickColor": "black", "tickWidth": 2.2, "tickOpacity": 1, "values": [-2.5,-7.5,-12.5,-17.5,-22.5,-27.5], "tickSize": 4.5}}
          }
        },
        {
          "data": {"name": "D_inset"},
          "mark": {"type": "line", "strokeWidth": 1.3, "color": "#000000", "interpolate": "monotone"},
          "encoding": {
            "x": {"field": "strain", "type": "quantitative", "scale": {"domain": [-5, 0], "reverse": true, "range": [49, 218], "nice": false, "zero": false},
              "axis": {"orient": "bottom", "offset": -95, "title": null, "values": [0,-2.5,-5], "format": ".1f",
                "labelExpr": "replace(datum.label, '\u2212', '-')", "ticks": false, "labelPadding": 2, "labelFontSize": 14, "domainWidth": 1.3}},
            "y": {"field": "stress", "type": "quantitative", "scale": {"domain": [-0.4, 0], "reverse": true, "range": [224, 90], "nice": false, "zero": false},
              "axis": {"orient": "left", "offset": -49, "title": null, "values": [0,-0.2,-0.4], "format": ".1f",
                "labelExpr": "replace(datum.label, '\u2212', '-')", "ticks": false, "labelPadding": 4, "labelFontSize": 14, "domainWidth": 1.3}}
          }
        },
        {
          "data": {"name": "D_inset"}, "mark": {"type": "line", "opacity": 0},
          "encoding": {
            "x": {"field": "strain", "type": "quantitative", "scale": {"domain": [-5, 0], "reverse": true, "range": [49, 218], "nice": false, "zero": false},
              "axis": {"orient": "top", "offset": -224, "title": null, "labels": false, "domain": false, "ticks": true, "tickColor": "black", "tickOpacity": 1, "values": [-1.25,-2.5,-3.75], "tickSize": 4.5, "tickWidth": 1.5}},
            "y": {"field": "stress", "type": "quantitative", "scale": {"domain": [-0.4, 0], "reverse": true, "range": [224, 90], "nice": false, "zero": false},
              "axis": {"orient": "right", "offset": -352, "title": null, "labels": false, "domain": false, "ticks": true, "tickColor": "black", "tickOpacity": 1, "values": [-0.1,-0.2,-0.3], "tickSize": 4.5, "tickWidth": 1.5}}
          }
        },
        {
          "data": {"name": "D_inset"}, "mark": {"type": "line", "opacity": 0},
          "encoding": {
            "x": {"field": "strain", "type": "quantitative", "scale": {"domain": [-5, 0], "reverse": true, "range": [49, 218], "nice": false, "zero": false},
              "axis": {"orient": "bottom", "offset": -229, "title": null, "labels": false, "domain": true, "domainWidth": 1.3, "ticks": true, "tickColor": "black", "tickOpacity": 1, "values": [-1.25,-2.5,-3.75], "tickSize": 4.5, "tickWidth": 1.5}},
            "y": {"field": "stress", "type": "quantitative", "scale": {"domain": [-0.4, 0], "reverse": true, "range": [224, 90], "nice": false, "zero": false},
              "axis": {"orient": "left", "offset": -218, "title": null, "labels": false, "domain": true, "domainWidth": 1.3, "ticks": true, "tickColor": "black", "tickOpacity": 1, "values": [-0.1,-0.2,-0.3], "tickSize": 4.5, "tickWidth": 1.5}}
          }
        }
      ]
    }
  ],
  "config": {
    "font": "Liberation Sans",
    "view": {"stroke": null},
    "axis": {
      "labelFont": "Liberation Sans", "titleFont": "Liberation Sans",
      "labelFontSize": 19, "titleFontSize": 20,
      "labelFontWeight": "bold", "titleFontWeight": "bold",
      "labelColor": "black", "titleColor": "black",
      "domainColor": "black", "tickColor": "black", "tickOpacity": 1,
      "domainWidth": 2, "tickWidth": 2.2,
      "grid": false, "labelOverlap": false, "labelFlush": false, "labelBound": false
    },
    "legend": {
      "labelFont": "Liberation Sans", "labelFontSize": 21, "labelFontWeight": "bold", "labelColor": "black"
    },
    "title": {"font": "Liberation Sans", "fontSize": 31, "fontWeight": "bold", "color": "black"},
    "style": {"guide-label": {"lineHeight": 25.5}}
  }
}
